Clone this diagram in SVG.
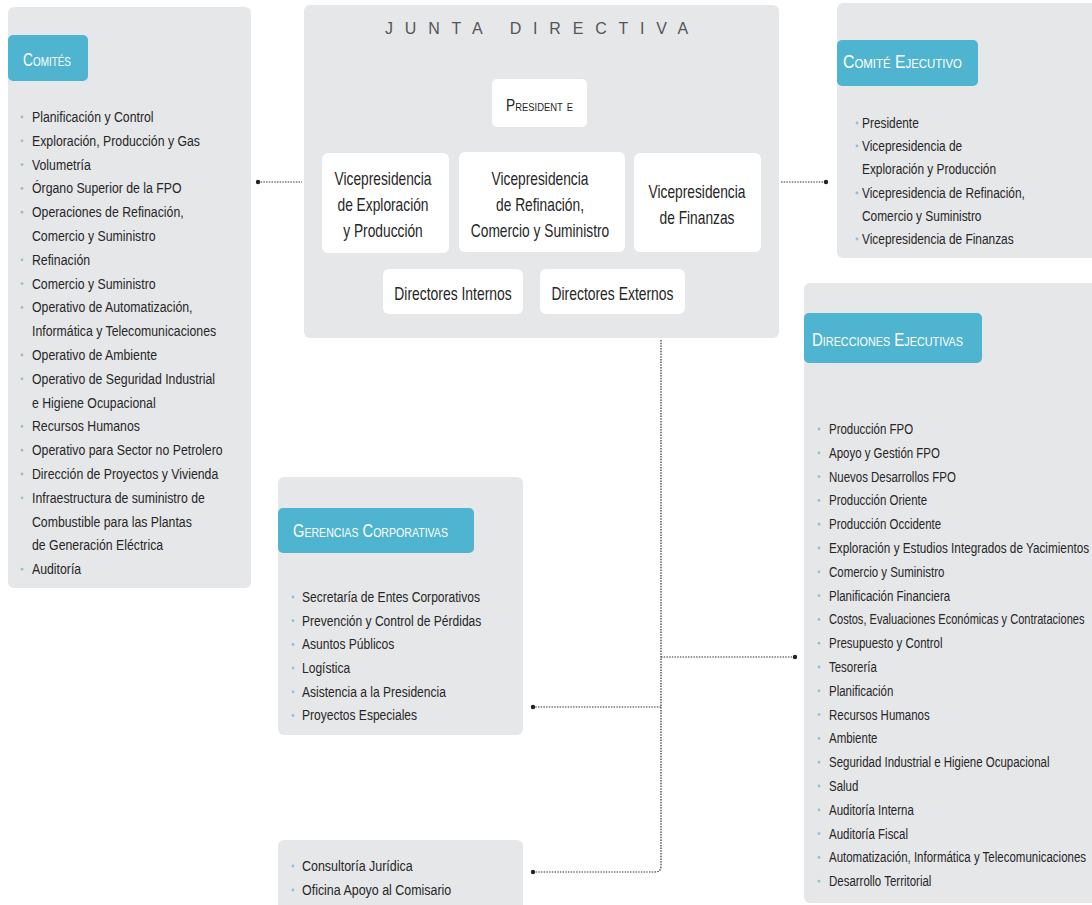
<svg xmlns="http://www.w3.org/2000/svg" width="1092" height="905" viewBox="0 0 1092 905">
<style>
.panel{fill:#e6e7e9}
.box{fill:#ffffff}
.tab{fill:#4fb4cf}
.hdr{font-family:"Liberation Sans",Arial,sans-serif;font-size:18px;font-variant:small-caps;fill:#ffffff}
.it{font-family:"Liberation Sans",Arial,sans-serif;font-size:15px;fill:#262626}
.bl{fill:#8fc2cc}
.vp{font-family:"Liberation Sans",Arial,sans-serif;font-size:18px;fill:#262626;text-anchor:middle}
.dr{font-family:"Liberation Sans",Arial,sans-serif;font-size:17.5px;fill:#262626;text-anchor:middle}
.ttl{font-family:"Liberation Sans",Arial,sans-serif;font-size:16px;fill:#555555;letter-spacing:11.8px}
.pres{font-family:"Liberation Sans",Arial,sans-serif;font-size:16px;font-variant:small-caps;fill:#262626}
.dl{fill:none;stroke:#333333;stroke-width:1.2;stroke-dasharray:1.5 1.2}
.dot{fill:#222222}
</style>
<g id="connectors">
<path class="dl" d="M258 182 H302"/>
<circle class="dot" cx="258" cy="182" r="2.2"/>
<path class="dl" d="M781 182 H826"/>
<circle class="dot" cx="826" cy="182" r="2.2"/>
<path class="dl" d="M661 340 V866 Q661 872 655 872 H533"/>
<path class="dl" d="M661 657 H795"/>
<circle class="dot" cx="795" cy="657" r="2.2"/>
<path class="dl" d="M661 707 H533"/>
<circle class="dot" cx="533" cy="707" r="2.2"/>
<circle class="dot" cx="533" cy="872" r="2.2"/>
</g>
<g id="comites">
<rect class="panel" x="8" y="7" width="243" height="581" rx="6"/>
<rect class="tab" x="8" y="35" width="80" height="46" rx="5"/>
<text class="hdr" x="23" y="66" textLength="48" lengthAdjust="spacingAndGlyphs">Comités</text>
<g class="bl">
<circle cx="22" cy="117" r="1.4"/><circle cx="22" cy="140.8" r="1.4"/><circle cx="22" cy="164.6" r="1.4"/><circle cx="22" cy="188.4" r="1.4"/><circle cx="22" cy="212.2" r="1.4"/><circle cx="22" cy="259.8" r="1.4"/><circle cx="22" cy="283.6" r="1.4"/><circle cx="22" cy="307.4" r="1.4"/><circle cx="22" cy="355" r="1.4"/><circle cx="22" cy="378.8" r="1.4"/><circle cx="22" cy="426.4" r="1.4"/><circle cx="22" cy="450.2" r="1.4"/><circle cx="22" cy="474" r="1.4"/><circle cx="22" cy="497.8" r="1.4"/><circle cx="22" cy="569.2" r="1.4"/>
</g>
<g transform="translate(32 0) scale(0.82 1)">
<text class="it" x="0" y="122">Planificación y Control</text>
<text class="it" x="0" y="145.8">Exploración, Producción y Gas</text>
<text class="it" x="0" y="169.6">Volumetría</text>
<text class="it" x="0" y="193.4">Órgano Superior de la FPO</text>
<text class="it" x="0" y="217.2">Operaciones de Refinación,</text>
<text class="it" x="0" y="241">Comercio y Suministro</text>
<text class="it" x="0" y="264.8">Refinación</text>
<text class="it" x="0" y="288.6">Comercio y Suministro</text>
<text class="it" x="0" y="312.4">Operativo de Automatización,</text>
<text class="it" x="0" y="336.2">Informática y Telecomunicaciones</text>
<text class="it" x="0" y="360">Operativo de Ambiente</text>
<text class="it" x="0" y="383.8">Operativo de Seguridad Industrial</text>
<text class="it" x="0" y="407.6">e Higiene Ocupacional</text>
<text class="it" x="0" y="431.4">Recursos Humanos</text>
<text class="it" x="0" y="455.2">Operativo para Sector no Petrolero</text>
<text class="it" x="0" y="479">Dirección de Proyectos y Vivienda</text>
<text class="it" x="0" y="502.8">Infraestructura de suministro de</text>
<text class="it" x="0" y="526.6">Combustible para las Plantas</text>
<text class="it" x="0" y="550.4">de Generación Eléctrica</text>
<text class="it" x="0" y="574.2">Auditoría</text>
</g>
</g>
<g id="junta">
<rect class="panel" x="304" y="5" width="475" height="333" rx="6"/>
<text class="ttl" x="385" y="34">JUNTA DIRECTIVA</text>
<rect class="box" x="492" y="79" width="95" height="48" rx="5"/>
<text class="pres" x="506" y="111" textLength="67" lengthAdjust="spacingAndGlyphs">President e</text>
<rect class="box" x="322" y="153" width="127" height="100" rx="6"/>
<rect class="box" x="459" y="152" width="166" height="100" rx="6"/>
<rect class="box" x="634" y="153" width="127" height="99" rx="6"/>
<rect class="box" x="383" y="269" width="140" height="45" rx="6"/>
<rect class="box" x="540" y="269" width="145" height="45" rx="6"/>
<g transform="translate(383 0) scale(0.765 1)">
<text class="vp" x="0" y="185">Vicepresidencia</text>
<text class="vp" x="0" y="211">de Exploración</text>
<text class="vp" x="0" y="237">y Producción</text>
</g>
<g transform="translate(540 0) scale(0.765 1)">
<text class="vp" x="0" y="185">Vicepresidencia</text>
<text class="vp" x="0" y="211">de Refinación,</text>
<text class="vp" x="0" y="237">Comercio y Suministro</text>
</g>
<g transform="translate(697 0) scale(0.765 1)">
<text class="vp" x="0" y="198">Vicepresidencia</text>
<text class="vp" x="0" y="224">de Finanzas</text>
</g>
<g transform="translate(453 0) scale(0.795 1)">
<text class="dr" x="0" y="300">Directores Internos</text>
</g>
<g transform="translate(612.5 0) scale(0.795 1)">
<text class="dr" x="0" y="300">Directores Externos</text>
</g>
</g>
<g id="comite-ejecutivo">
<rect class="panel" x="837" y="3" width="262" height="255" rx="6"/>
<rect class="tab" x="837" y="40" width="141" height="46" rx="5"/>
<text class="hdr" x="843" y="68" textLength="119" lengthAdjust="spacingAndGlyphs">Comité  Ejecutivo</text>
<g class="bl">
<circle cx="857" cy="123" r="1.4"/><circle cx="857" cy="146" r="1.4"/><circle cx="857" cy="193" r="1.4"/><circle cx="857" cy="239" r="1.4"/>
</g>
<g transform="translate(862 0) scale(0.793 1)">
<text class="it" x="0" y="128">Presidente</text>
<text class="it" x="0" y="151">Vicepresidencia de</text>
<text class="it" x="0" y="174">Exploración y Producción</text>
<text class="it" x="0" y="198">Vicepresidencia de Refinación,</text>
<text class="it" x="0" y="221">Comercio y Suministro</text>
<text class="it" x="0" y="244">Vicepresidencia de Finanzas</text>
</g>
</g>
<g id="direcciones-ejecutivas">
<rect class="panel" x="804" y="283" width="295" height="620" rx="6"/>
<rect class="tab" x="804" y="313" width="178" height="50" rx="5"/>
<text class="hdr" x="812" y="346" textLength="151" lengthAdjust="spacingAndGlyphs">Direcciones  Ejecutivas</text>
<g class="bl">
<circle cx="819" cy="429" r="1.4"/><circle cx="819" cy="452.8" r="1.4"/><circle cx="819" cy="476.6" r="1.4"/><circle cx="819" cy="500.4" r="1.4"/><circle cx="819" cy="524.2" r="1.4"/><circle cx="819" cy="548" r="1.4"/><circle cx="819" cy="571.8" r="1.4"/><circle cx="819" cy="595.6" r="1.4"/><circle cx="819" cy="619.4" r="1.4"/><circle cx="819" cy="643.2" r="1.4"/><circle cx="819" cy="667" r="1.4"/><circle cx="819" cy="690.8" r="1.4"/><circle cx="819" cy="714.6" r="1.4"/><circle cx="819" cy="738.4" r="1.4"/><circle cx="819" cy="762.2" r="1.4"/><circle cx="819" cy="786" r="1.4"/><circle cx="819" cy="809.8" r="1.4"/><circle cx="819" cy="833.6" r="1.4"/><circle cx="819" cy="857.4" r="1.4"/><circle cx="819" cy="881.2" r="1.4"/>
</g>
<g transform="translate(829 0) scale(0.765 1)">
<text class="it" x="0" y="434">Producción FPO</text>
<text class="it" x="0" y="457.8">Apoyo y Gestión FPO</text>
<text class="it" x="0" y="481.6">Nuevos Desarrollos FPO</text>
<text class="it" x="0" y="505.4">Producción Oriente</text>
<text class="it" x="0" y="529.2">Producción Occidente</text>
<text class="it" x="0" y="553" textLength="340" lengthAdjust="spacingAndGlyphs">Exploración y Estudios Integrados de Yacimientos</text>
<text class="it" x="0" y="576.8">Comercio y Suministro</text>
<text class="it" x="0" y="600.6">Planificación Financiera</text>
<text class="it" x="0" y="624.4" textLength="334" lengthAdjust="spacingAndGlyphs">Costos, Evaluaciones Económicas y Contrataciones</text>
<text class="it" x="0" y="648.2">Presupuesto y Control</text>
<text class="it" x="0" y="672">Tesorería</text>
<text class="it" x="0" y="695.8">Planificación</text>
<text class="it" x="0" y="719.6">Recursos Humanos</text>
<text class="it" x="0" y="743.4">Ambiente</text>
<text class="it" x="0" y="767.2">Seguridad Industrial e Higiene Ocupacional</text>
<text class="it" x="0" y="791">Salud</text>
<text class="it" x="0" y="814.8">Auditoría Interna</text>
<text class="it" x="0" y="838.6">Auditoría Fiscal</text>
<text class="it" x="0" y="862.4" textLength="336" lengthAdjust="spacingAndGlyphs">Automatización, Informática y Telecomunicaciones</text>
<text class="it" x="0" y="886.2">Desarrollo Territorial</text>
</g>
</g>
<g id="gerencias-corporativas">
<rect class="panel" x="278" y="477" width="245" height="258" rx="6"/>
<rect class="tab" x="278" y="508" width="196" height="45" rx="5"/>
<text class="hdr" x="293" y="537" textLength="155" lengthAdjust="spacingAndGlyphs">Gerencias  Corporativas</text>
<g class="bl">
<circle cx="293" cy="597" r="1.4"/><circle cx="293" cy="620.7" r="1.4"/><circle cx="293" cy="644.4" r="1.4"/><circle cx="293" cy="668.1" r="1.4"/><circle cx="293" cy="691.8" r="1.4"/><circle cx="293" cy="715.5" r="1.4"/>
</g>
<g transform="translate(302 0) scale(0.803 1)">
<text class="it" x="0" y="602">Secretaría de Entes Corporativos</text>
<text class="it" x="0" y="625.7">Prevención y Control de Pérdidas</text>
<text class="it" x="0" y="649.4">Asuntos Públicos</text>
<text class="it" x="0" y="673.1">Logística</text>
<text class="it" x="0" y="696.8">Asistencia a la Presidencia</text>
<text class="it" x="0" y="720.5">Proyectos Especiales</text>
</g>
</g>
<g id="consultoria">
<rect class="panel" x="278" y="840" width="245" height="75" rx="6"/>
<g class="bl">
<circle cx="293" cy="866" r="1.4"/><circle cx="293" cy="890" r="1.4"/>
</g>
<g transform="translate(302 0) scale(0.83 1)">
<text class="it" x="0" y="871">Consultoría Jurídica</text>
<text class="it" x="0" y="895">Oficina Apoyo al Comisario</text>
</g>
</g>
</svg>
